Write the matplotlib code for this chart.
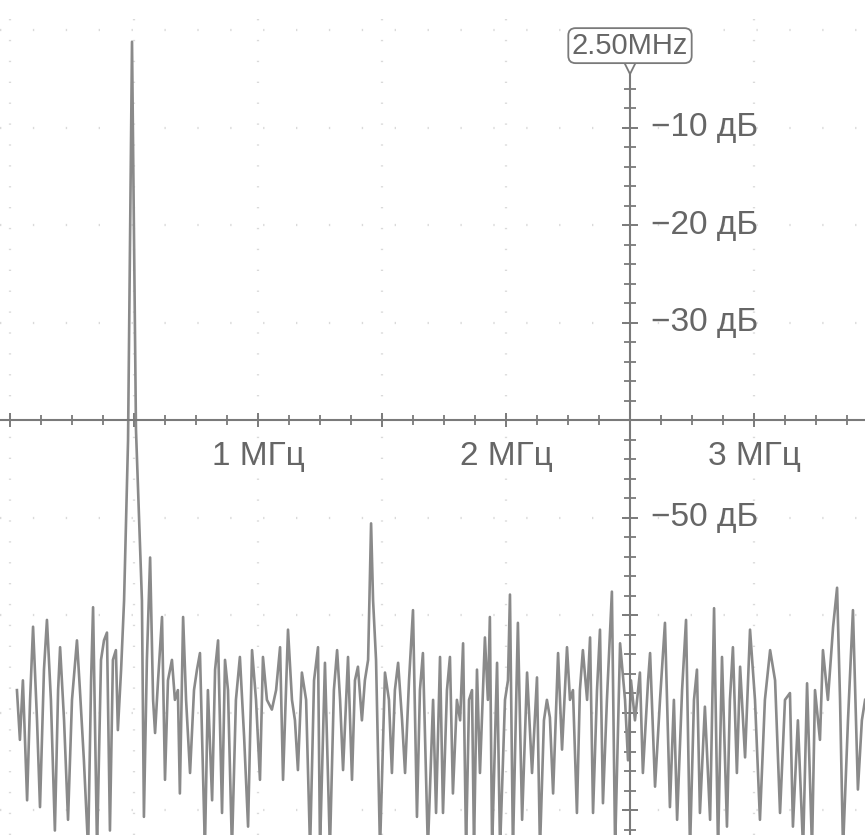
import matplotlib
matplotlib.use("Agg")
import matplotlib.pyplot as plt
from matplotlib.ticker import FixedLocator, MultipleLocator

plt.rcParams['font.family'] = ['Liberation Sans', 'DejaVu Sans']

# FFT trace: frequency (MHz) and level (dB)
freq_mhz = [
    0.028, 0.040, 0.052, 0.069, 0.081, 0.093, 0.109, 0.121, 0.137, 0.149,
    0.165, 0.181, 0.194, 0.202, 0.218, 0.234, 0.250, 0.270, 0.282, 0.298,
    0.315, 0.327, 0.335, 0.351, 0.367, 0.379, 0.391, 0.403, 0.415, 0.427,
    0.435, 0.448, 0.460, 0.476, 0.492, 0.508, 0.532, 0.540, 0.552, 0.565,
    0.577, 0.585, 0.597, 0.613, 0.625, 0.637, 0.653, 0.665, 0.677, 0.685,
    0.698, 0.710, 0.726, 0.742, 0.754, 0.766, 0.786, 0.798, 0.815, 0.827,
    0.839,
    0.855, 0.867, 0.879, 0.895, 0.911, 0.927, 0.944, 0.960, 0.976, 0.992,
    1.008, 1.020, 1.036, 1.056, 1.073, 1.089, 1.101, 1.121, 1.137, 1.149,
    1.161, 1.177, 1.194, 1.210, 1.226, 1.242, 1.250, 1.270, 1.290, 1.306,
    1.319, 1.331, 1.343, 1.363, 1.379, 1.391, 1.403, 1.419, 1.431, 1.444,
    1.456, 1.464, 1.476, 1.492, 1.512, 1.528, 1.540, 1.552, 1.565, 1.581,
    1.593, 1.609, 1.625, 1.641, 1.653, 1.665, 1.685, 1.706,
    1.718, 1.734, 1.746, 1.762, 1.774, 1.786, 1.802, 1.815, 1.827, 1.839,
    1.851, 1.863, 1.871, 1.883, 1.895, 1.915, 1.927, 1.935, 1.944, 1.964,
    1.976, 1.996, 2.008, 2.016, 2.028, 2.048, 2.065, 2.085, 2.105, 2.125,
    2.137, 2.153, 2.165, 2.177, 2.190, 2.210, 2.226, 2.246, 2.258, 2.270,
    2.286, 2.298, 2.310, 2.327, 2.339, 2.351, 2.367, 2.379, 2.391, 2.407,
    2.427, 2.440, 2.460, 2.480, 2.492, 2.504, 2.520, 2.540, 2.552, 2.573,
    2.581, 2.601, 2.621, 2.641, 2.661, 2.677, 2.690, 2.710, 2.726, 2.742,
    2.758, 2.770, 2.782, 2.802, 2.823, 2.839, 2.855, 2.871, 2.891, 2.903,
    2.915, 2.931, 2.944, 2.964, 2.984, 3.004, 3.024, 3.044, 3.065, 3.085,
    3.105, 3.125, 3.145, 3.157, 3.177, 3.198, 3.214, 3.234, 3.246, 3.266,
    3.278, 3.298, 3.319, 3.335, 3.347, 3.359, 3.379, 3.399, 3.419, 3.435,
    3.448,
]
level_db = [
    -67.7, -72.8, -66.7, -79.0, -68.7, -61.2, -70.8, -79.7, -65.6, -60.5,
    -68.7, -82.1, -67.7, -63.3, -70.8, -81.0, -68.7, -62.6, -67.7, -74.9,
    -84.0, -66.7, -59.2, -84.0, -64.6, -62.6, -61.8, -82.1, -64.6, -63.6,
    -71.8, -65.6, -58.5, -42.1, -1.2, -41.0, -58.5, -80.7, -64.6, -54.1,
    -68.7, -72.1, -66.7, -60.2, -76.9, -66.7, -64.6, -68.7, -67.7, -78.3,
    -60.2, -68.7, -76.2, -67.7, -65.6, -63.9, -84.0, -67.7, -79.0, -65.6,
    -62.6,
    -80.3, -64.6, -67.7, -84.0, -68.7, -64.3, -72.5, -81.7, -63.6, -68.7,
    -76.9, -64.3, -68.7, -69.7, -67.7, -63.3, -76.9, -61.5, -68.7, -70.8,
    -75.9, -65.9, -68.7, -84.0, -66.7, -63.3, -84.0, -64.9, -84.0, -67.7,
    -63.6, -68.7, -75.9, -64.3, -76.9, -66.7, -65.3, -70.8, -66.7, -64.6,
    -50.6, -58.5, -64.6, -84.0, -65.9, -68.7, -76.2, -67.7, -64.9, -70.8,
    -76.2, -66.7, -59.5, -80.7, -67.7, -63.9, -84.0, -68.7,
    -80.3, -64.3, -80.3, -67.7, -64.3, -78.3, -68.7, -70.8, -62.9, -84.0,
    -68.7, -67.7, -84.0, -65.6, -76.2, -62.3, -68.7, -60.2, -84.0, -64.9,
    -84.0, -68.7, -66.7, -57.9, -84.0, -60.8, -81.0, -65.9, -76.2, -66.4,
    -84.0, -70.8, -68.7, -70.5, -78.3, -63.9, -73.8, -63.3, -68.7, -67.7,
    -80.3, -67.7, -63.6, -68.7, -62.3, -80.3, -67.7, -61.5, -79.3, -68.7,
    -57.6, -84.0, -62.9, -68.7, -74.9, -66.7, -70.8, -65.9, -76.2, -66.7,
    -63.9, -77.6, -68.7, -60.8, -79.7, -68.7, -81.0, -67.7, -60.5, -84.0,
    -68.7, -65.6, -80.3, -69.4, -81.0, -59.3, -84.0, -64.3, -81.7, -68.7,
    -63.3, -76.2, -65.3, -74.6, -61.5, -68.7, -81.0, -68.7, -63.6, -66.7,
    -80.3, -68.7, -68.0, -81.7, -70.8, -84.0, -67.0, -84.0, -67.7, -72.8,
    -63.6, -68.7, -61.2, -57.2, -68.7, -84.0, -70.8, -59.5, -77.9, -70.8,
    -68.7,
]

x_labels = {1.0: '1 МГц', 2.0: '2 МГц', 3.0: '3 МГц'}
y_labels = {-10: '−10 дБ', -20: '−20 дБ', -30: '−30 дБ', -50: '−50 дБ'}
center_freq = 2.5
marker_text = '2.50MHz'

axis_col = '#7a7a7a'
text_col = '#666666'

fig = plt.figure(figsize=(8.65, 8.35), dpi=100)
ax = fig.add_axes([0, 0, 1, 1])
ax.set_xlim(-0.0403, 3.4476)
ax.set_ylim(-82.56, 3.08)

# dotted graticule
for gx in [0, 0.5, 1.0, 1.5, 2.0, 3.0]:
    ax.axvline(gx, color='#dadada', lw=1.6, ls=(0, (0.6, 8.8)), zorder=0)
for gy in [0, -10, -20, -30, -50, -60, -70, -80]:
    ax.axhline(gy, color='#dadada', lw=1.6, ls=(0, (0.6, 14.2)), zorder=0)

ax.plot(freq_mhz, level_db, color='#8a8a8a', lw=1.9, zorder=2)

# scope-style axes through the centre of the screen
for s in ['top', 'left']:
    ax.spines[s].set_visible(False)
ax.spines['bottom'].set_position(('data', -40))
ax.spines['right'].set_position(('data', center_freq))
ax.spines['right'].set_bounds(-90, -4.0)
for s in ['bottom', 'right']:
    ax.spines[s].set_color(axis_col)
    ax.spines[s].set_linewidth(1.5)
    ax.spines[s].set_zorder(3)

xt = [0, 0.5, 1.0, 1.5, 2.0, 2.5, 3.0]
ax.xaxis.set_major_locator(FixedLocator(xt))
ax.xaxis.set_minor_locator(MultipleLocator(0.125))
ax.set_xticklabels([x_labels.get(t, '') for t in xt])
ax.yaxis.tick_right()
yt = [-80, -70, -60, -50, -40, -30, -20, -10]
ax.yaxis.set_major_locator(FixedLocator(yt))
ax.yaxis.set_minor_locator(FixedLocator(list(range(-82, -4, 2))))
ax.set_yticklabels([y_labels.get(t, '') for t in yt])

ax.tick_params(axis='x', which='major', direction='inout', length=10, width=1.4,
               color=axis_col, labelcolor=text_col, labelsize=24, pad=10)
ax.tick_params(axis='x', which='minor', direction='inout', length=7, width=1.3,
               color=axis_col)
ax.tick_params(axis='y', which='major', direction='inout', length=12, width=1.4,
               color=axis_col, labelcolor=text_col, labelsize=24, pad=9)
ax.tick_params(axis='y', which='minor', direction='inout', length=8, width=1.3,
               color=axis_col)
for lbl in ax.get_yticklabels():
    lbl.set_verticalalignment('center')

# centre frequency marker
ax.plot([center_freq], [-3.7], marker='v', ms=11, mfc='white', mec=axis_col,
        mew=1.3, zorder=4)
ax.text(center_freq, -1.6, marker_text, ha='center', va='center', fontsize=21,
        color=text_col, zorder=5,
        bbox=dict(boxstyle='round,pad=0.12,rounding_size=0.25', fc='white',
                  ec=axis_col, lw=1.3))

fig.savefig('out.png', dpi=100)
